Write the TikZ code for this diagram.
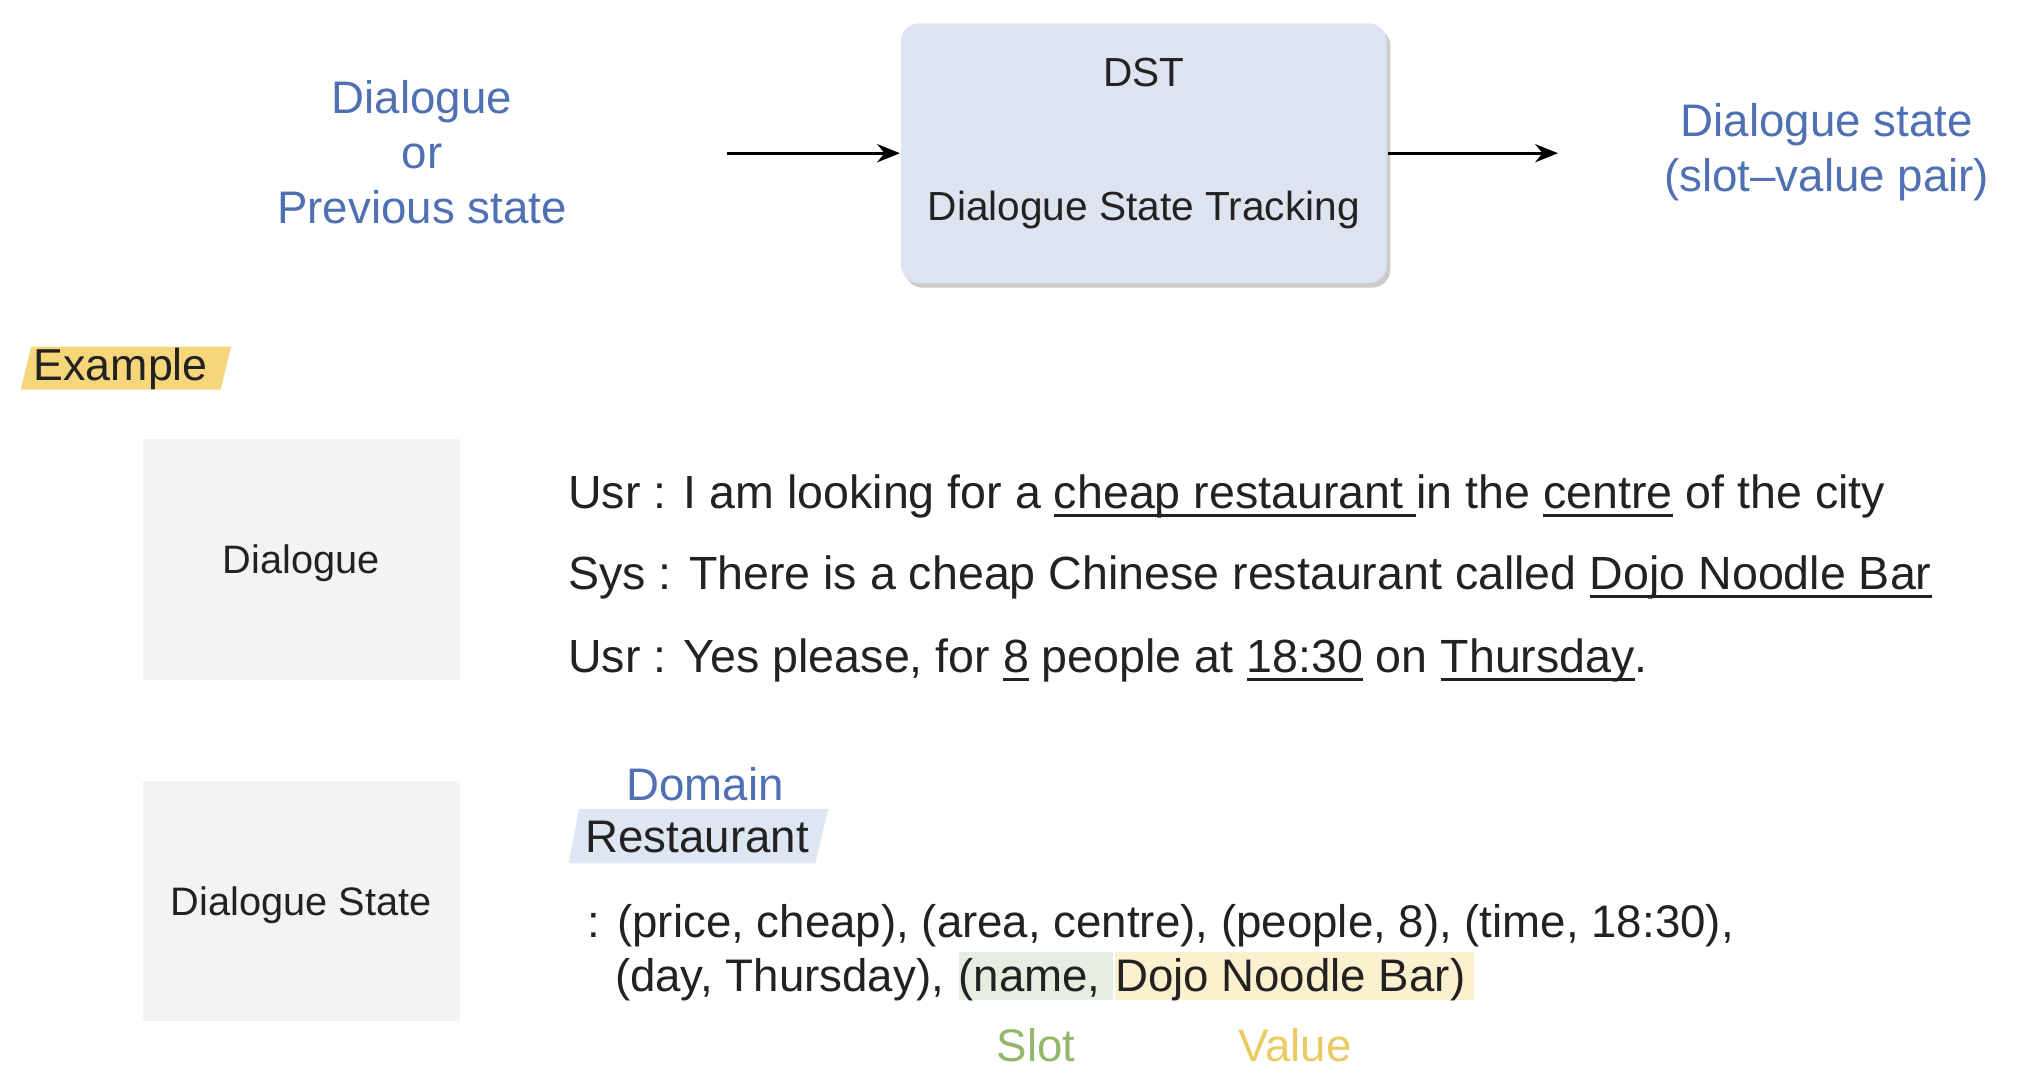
\documentclass[tikz,border=0pt]{standalone}
\usepackage{xcolor}
\usepackage{fontspec}
\setmainfont{Liberation Sans}
\usepackage{tikz}
\usetikzlibrary{positioning, calc, shadows, arrows.meta, backgrounds}

\definecolor{dlgblue}{HTML}{4F70B2}
\definecolor{dstfill}{HTML}{DDE4F0}
\definecolor{examplefill}{HTML}{F5D67A}
\definecolor{boxgrey}{HTML}{F3F3F3}
\definecolor{domainfill}{HTML}{DEE6F2}
\definecolor{slotfill}{HTML}{E6EEDF}
\definecolor{valuefill}{HTML}{FCF1CF}
\definecolor{slotgreen}{HTML}{93B86C}
\definecolor{valueyellow}{HTML}{E9CB62}
\definecolor{ink}{HTML}{222222}

% underline at a fixed depth
\newsavebox{\undlbox}
\newcommand{\undl}[1]{\sbox{\undlbox}{#1}\rlap{\rule[-1.8pt]{\wd\undlbox}{0.6pt}}\usebox{\undlbox}}

\begin{document}
\begin{tikzpicture}[x=0.01cm, y=-0.01cm,
	every node/.style={inner sep=0pt, text=ink},
	bluetxt/.style={text=dlgblue, font=\fontsize{10}{12}\selectfont, align=center},
	boxtxt/.style={font=\fontsize{8.9}{11}\selectfont},
	dstbox/.style={fill=dstfill, rounded corners=4pt, minimum width=3.74cm, minimum height=2cm,
		drop shadow={shadow xshift=0.8pt, shadow yshift=-1pt, fill=black!40, opacity=0.5}},
	greybox/.style={fill=boxgrey, minimum width=2.44cm, minimum height=1.85cm, text depth=0pt, font=\fontsize{8.7}{10}\selectfont},
	utt/.style={font=\fontsize{10.2}{12}\selectfont, anchor=base west},
	statetxt/.style={font=\fontsize{10}{12}\selectfont},
	arr/.style={-{Stealth[length=5pt, width=4pt]}, line width=0.6pt}]
	\useasboundingbox (0,0) rectangle (1569,832);
	
	% DST block
	\node[bluetxt] (input) at (325,117) {Dialogue\\or\\Previous state};
	\node[dstbox] (dst) at (881,118) {};
	\node[boxtxt] (dsttitle) at (881,56) {DST};
	\node[boxtxt] (dstname) at (881,162) {Dialogue State Tracking};
	\node[bluetxt] (output) at (1407,117) {Dialogue state\\(slot–value pair)};
	\coordinate (inend) at (560,118);
	\coordinate (outend) at (1200,118);
	
	\draw[arr] (inend) -- (dst.west);
	\draw[arr] (dst.east) -- (outend);
	
	% example
	\node[font=\fontsize{9.8}{12}\selectfont] (example) at (93,284) {Example};
	\node[greybox] (dlgbox) at (232,431) {Dialogue};
	\node[greybox] (statebox) at (232,694) {Dialogue State};
	
	\node[utt] (usr1) at (437,392) {Usr : I am looking for a \undl{cheap restaurant }in the \undl{centre} of the city};
	\node[utt] (sys) at (437,454) {Sys : There is a cheap Chinese restaurant called \undl{Dojo Noodle Bar}};
	\node[utt] (usr2) at (437,518) {Usr : Yes please, for \undl{8} people at \undl{18:30} on \undl{Thursday}.};
	
	\node[bluetxt] (domain) at (543,604) {Domain};
	\node[statetxt] (restaurant) at (537,645) {Restaurant};
	\node[statetxt, anchor=base west] (pairs1) at (452,722) {: (price, cheap), (area, centre), (people, 8), (time, 18:30),};
	\node[statetxt, anchor=base west] (pairs2) at (473,764) {(day, Thursday),\ \null};
	\node[statetxt, anchor=base west, fill=slotfill, text height=8.8pt, text depth=1.8pt] (slot) at (pairs2.base east) {(name,\ \null};
	\node[statetxt, anchor=base west, fill=valuefill, text height=8.8pt, text depth=1.8pt] (value) at (slot.base east) {Dojo Noodle Bar)\hspace{2pt}\null};
	\node[statetxt, text=slotgreen, below=0.2cm of slot] (slotlbl) {Slot};
	\node[statetxt, text=valueyellow, below=0.2cm of value] (valuelbl) {Value};
	
	\begin{scope}[on background layer]
		\fill[examplefill] (16,300) -- (24,267) -- (178,267) -- (170,300) -- cycle;
		\fill[domainfill] (438,665) -- (446,623) -- (638,623) -- (628,665) -- cycle;
	\end{scope}
\end{tikzpicture}
\end{document}
